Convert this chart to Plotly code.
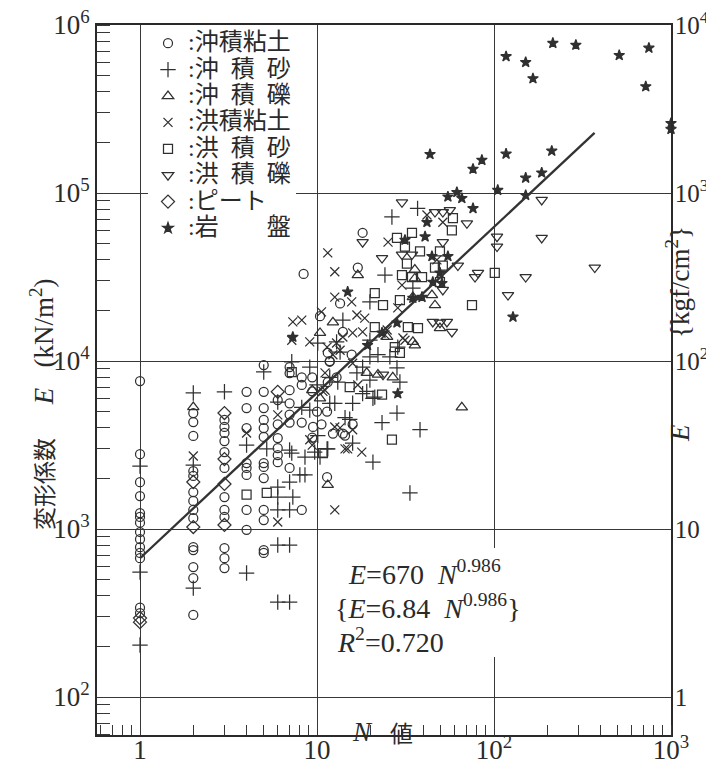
import plotly.graph_objects as go

# ---------------- data (N value, deformation modulus E [kN/m2]) ----------------
categories = ["沖積粘土", "沖\u2002積\u2002砂", "沖\u2002積\u2002礫", "洪積粘土",
              "洪\u2002積\u2002砂", "洪\u2002積\u2002礫", "ピート", "岩\u2003\u2003盤"]

# 沖積粘土 (alluvial clay)
clayA_N = [1]*14 + [2]*14 + [3]*12 + [4]*8 + [5]*13 + [6]*6 + [7]*7 + [8.2]*4 + \
          [9.4, 9.4, 9.5, 9.4, 10, 10.6, 11.4, 10.4, 11.8, 12.9, 12.3, 14, 11.4, 13.5,
           11.5, 11.8, 11.5, 15.7, 14, 15.9, 14.4, 17, 18.1, 8.4]
clayA_E = [7600, 2790, 1900, 1570, 1245, 1180, 1090, 960, 870, 780, 720, 670, 340, 316,
           4900, 4330, 3580, 2215, 2070, 1660, 1470, 1300, 1160, 781, 750, 594, 511, 308,
           4460, 4050, 3730, 3340, 2870, 2310, 1550, 1300, 1180, 771, 671, 586,
           6560, 5250, 3990, 2470, 2310, 2100, 1300, 990,
           9460, 6560, 5250, 4460, 3990, 3530, 2470, 2340, 2010, 1300, 1130, 750, 720,
           5860, 4200, 3480, 3030, 2750, 2500,
           9200, 8460, 6700, 5600, 4800, 4300, 2310,
           8000, 7200, 4300, 1300,
           8000, 6600, 4050, 3500, 5000, 4200, 5000, 18500, 9900, 8000, 3700, 3700, 2040, 22000,
           11200, 10000, 7500, 10900, 14900, 4200, 3600, 36000, 58000, 33000]

# 沖積砂 (alluvial sand)
sandA_N = [1, 1, 1, 2, 2, 2, 3, 4, 4, 5, 6, 6, 6, 6, 6, 7, 7, 7, 7, 7, 7.3, 8,
           10.1, 12.9, 7.2, 9.1, 10, 11.8, 6, 8.2, 9.1, 11.8, 14.4, 10.1, 7.2, 8.55, 10.4,
           11.4, 8.55, 5.2, 9.7, 37,
           24.2, 34.8, 19.9, 14, 19.9, 13.5, 19.9, 22.1, 25.8, 28.6, 18.1, 16.8, 28.3, 13.1,
           19.9, 29.4, 18.1, 21.2, 19.1, 20.7, 12.6, 15.9, 28.3, 23.3, 38.2, 15.3, 20.7, 15.9,
           11.5, 33.5, 26.5]
sandA_E = [2370, 554, 204, 6456, 2400, 445, 6560, 3162, 547, 8610, 1778, 1549, 1298, 803, 367,
           2951, 1905, 1298, 803, 367, 1550, 2100,
           12800, 13000, 9900, 9200, 7200, 8000, 5700, 5300, 5100, 5600, 4600, 3600, 2830, 2680,
           2680, 3000, 2100, 3000, 2870, 81000,
           32500, 27200, 22500, 17500, 13300, 11300, 10600, 10900, 10600, 12100, 9200, 8500, 9100,
           7500, 7700, 7500, 6400, 6100, 6600, 6000, 5600, 5600, 4900, 4300, 3900, 4500, 2500,
           3250, 3000, 1640, 72000]

# 沖積礫 (alluvial gravel)
gravA_N = [2, 10.4, 12.3, 10.4, 11.5, 19.1, 26.8, 22.1, 24.9, 35.7, 35.7, 44.6, 46.4, 49.5,
           34.8, 35.7, 34.8, 65.8, 17, 9.4]
gravA_E = [5320, 14700, 17000, 6000, 1830, 8500, 8000, 8300, 13900, 12400, 35000, 24700,
           21500, 15700, 13000, 31000, 24000, 5300, 32500, 6700]

# 洪積粘土 (diluvial clay)
clayD_N = [2, 4, 6, 6, 12.6, 7.3, 8.2, 7.2, 10.6, 9.1, 11.4, 12.3, 13.5, 14, 11.1, 12.6, 9.1,
           9.4, 14.4, 11.5, 12.6, 12.6, 15.7, 16.8, 18.6, 24.9, 15.9, 18.1, 30.6, 12.9, 15.9,
           11.1, 17, 10.8, 28.6, 30.2, 25.2, 13.5, 15.9, 14.9, 17.9, 41.8, 51.4, 47.6, 24.2,
           31.4]
clayD_E = [2720, 3727, 4776, 1101, 1300, 17100, 17500, 13300, 19600, 13000, 12100, 10900,
           11600, 13900, 6700, 4050, 3400, 3160, 3000, 44000, 34000, 24000, 22500, 18800,
           18000, 15300, 14700, 14900, 13700, 12800, 9700, 8500, 7200, 6600, 20700, 28300,
           51000, 4000, 3900, 3000, 2870, 74000, 67000, 40000, 14300, 13300]

# 洪積砂 (diluvial sand)
sandD_N = [4, 5.2, 7.2, 15.3, 10.8, 23.3, 26.5, 28.3, 34.4, 31.4, 38.2, 32.2, 30.2, 34.4,
           39.2, 21.2, 23.6, 29.4, 21.2, 32.6, 37.2, 27.5, 29.4, 58.6, 57.8, 49.5, 46.4, 51.4,
           101, 49.5, 75.1]
sandD_E = [1600, 1640, 8600, 7000, 2830, 6300, 3400, 54000, 58000, 48000, 45000, 38000, 32500,
           31600, 31600, 25400, 21500, 23000, 15900, 15900, 15700, 12100, 11200, 71000, 60000,
           45000, 36000, 37000, 33500, 29500, 21500]

# 洪積礫 (diluvial gravel)
gravD_N = [30.2, 46.4, 51.4, 56.3, 70.3, 18.1, 51.4, 23.3, 30.2, 34.4, 62.5, 78.1, 81.2, 104,
           104, 51.4, 120, 151, 186, 186, 371, 45.1, 49.5, 54.2, 57.8, 23.6]
gravD_E = [88000, 77000, 77000, 79000, 66000, 51000, 51000, 41000, 43000, 43000, 37000, 31600,
           33500, 55000, 48000, 26500, 24700, 31600, 91000, 54000, 36000, 17100, 16900, 17100,
           14900, 8300]

# ピート (peat)
peat_N = [1, 1, 2, 2, 3, 3, 3, 3, 6]
peat_E = [295, 279, 1905, 1028, 4900, 2610, 1854, 1057, 6560]

# 岩盤 (rock)
rock_N = [43.5, 85.4, 76.1, 117, 151, 151, 61.7, 54.9, 65.8, 105, 76.1, 41.8, 31.4, 40.8,
          44.6, 54.9, 45.1, 50.8, 14.9, 34.8, 39.2, 128, 28.3, 19.3, 23.3, 28.6, 49.5, 7.3,
          212, 186, 215, 117, 151, 166, 290, 510, 750, 720, 1000, 1000]
rock_E = [170000, 157000, 139000, 171000, 123000, 97000, 101000, 95000, 93000, 104000, 81000,
          67000, 52500, 55000, 42000, 42000, 29500, 29000, 25800, 23700, 24000, 18300, 16900,
          12400, 14700, 6400, 33500, 13900, 178000, 132000, 780000, 650000, 600000, 480000,
          760000, 660000, 730000, 430000, 260000, 240000]

# regression  E = 670 N^0.986   {E = 6.84 N^0.986 in kgf/cm2}
fit_coef = 670
fit_coef_kgf = 6.84
fit_exp = 0.986
fit_N = [1, 370]

x_tickvals = [1, 10, 100, 1000]
x_ticktext = ["1", "10", "10<sup>2</sup>", "10<sup>3</sup>"]
y_tickvals = [1e2, 1e3, 1e4, 1e5, 1e6]
y_ticktext = ["10<sup>2</sup>", "10<sup>3</sup>", "10<sup>4</sup>", "10<sup>5</sup>", "10<sup>6</sup>"]
y2_tickvals = [1, 10, 100, 1000, 10000]
y2_ticktext = ["1", "10", "10<sup>2</sup>", "10<sup>3</sup>", "10<sup>4</sup>"]

# ---------------- figure ----------------
SERIF = "Liberation Serif, 'Noto Sans CJK JP', serif"
INK = "#303030"
TXT = "#2a2a2a"
GRID = "#383838"

series = [
    (clayA_N, clayA_E, "circle-open", 9),
    (sandA_N, sandA_E, "cross-thin-open", 11),
    (gravA_N, gravA_E, "triangle-up-open", 10),
    (clayD_N, clayD_E, "x-thin-open", 9),
    (sandD_N, sandD_E, "square-open", 9),
    (gravD_N, gravD_E, "triangle-down-open", 10),
    (peat_N, peat_E, "diamond-open", 10),
    (rock_N, rock_E, "star", 8),
]

fig = go.Figure()
for name, (xs, ys, sym, sz) in zip(categories, series):
    fig.add_trace(go.Scatter(
        x=xs, y=ys, mode="markers", cliponaxis=False,
        name='<span style="font-size:24px">:' + name + '</span>',
        marker=dict(symbol=sym, size=sz, color=INK, line=dict(width=1.25, color=INK)),
    ))

fig.add_trace(go.Scatter(
    x=fit_N, y=[fit_coef * n ** fit_exp for n in fit_N], mode="lines",
    line=dict(color="#333333", width=2.3), showlegend=False, hoverinfo="skip",
))
# same regression in kgf/cm2 on the right-hand axis (coincides with the line above)
fig.add_trace(go.Scatter(
    x=fit_N, y=[fit_coef_kgf * n ** fit_exp for n in fit_N], mode="lines", yaxis="y2",
    line=dict(color="rgba(0,0,0,0)", width=0), showlegend=False, hoverinfo="skip",
))

# The page body has an 8 px margin, so the figure is drawn 8 px in from the window edge.
OFF = 8
W, H = 714 - OFF, 767 - OFF
# plot area in window pixels: x 97..671, y 25..735
L, R, T, B = 97 - OFF, 714 - 671, 25 - OFF, 767 - 735
PW, PH = W - L - R, H - T - B


def px(x):  # window pixel -> paper
    return (x - OFF - L) / PW


def py(y):
    return (H - B - (y - OFF)) / PH


TICKF = dict(size=27, family=SERIF, color=TXT)
TICKF2 = dict(size=25, family=SERIF, color=TXT)

fig.update_layout(
    width=W, height=H,
    margin=dict(l=L, r=R, t=T, b=B, autoexpand=False),
    paper_bgcolor="white", plot_bgcolor="white",
    font=dict(family=SERIF, color=TXT, size=18),
    showlegend=True,
    legend=dict(x=px(148), y=py(25), xanchor="left", yanchor="top",
                bgcolor="white", borderwidth=0, itemwidth=30, tracegroupgap=0,
                font=dict(size=18, family=SERIF, color=TXT)),
    xaxis=dict(type="log", range=[-0.243, 3], tickvals=x_tickvals, ticktext=x_ticktext,
               automargin=False, ticklabeloverflow="allow", ticklabelstandoff=-10,
               showgrid=True, gridcolor=GRID, gridwidth=1.4, zeroline=False,
               showline=True, linecolor=TXT, linewidth=1.6, mirror=True,
               ticks="", tickfont=TICKF,
               minor=dict(ticks="inside", ticklen=10, tickwidth=1.1, tickcolor=GRID,
                          dtick="D1", showgrid=False)),
    yaxis=dict(type="log", range=[1.774, 6], tickvals=y_tickvals, ticktext=y_ticktext,
               automargin=False, ticklabeloverflow="allow",
               showgrid=True, gridcolor=GRID, gridwidth=1.4, zeroline=False,
               showline=True, linecolor=TXT, linewidth=1.6, mirror=True,
               ticks="", tickfont=TICKF,
               minor=dict(ticks="inside", ticklen=13, tickwidth=1.1, tickcolor=GRID,
                          dtick="D1", showgrid=False)),
    yaxis2=dict(type="log", range=[-0.226, 4.0005], overlaying="y", side="right", anchor="x",
                automargin=False, ticklabeloverflow="allow", ticklabelstandoff=-3,
                tickvals=y2_tickvals, ticktext=y2_ticktext, showgrid=False, zeroline=False,
                showline=True, linecolor=TXT, linewidth=1.6, ticks="",
                tickfont=TICKF2),
)

# white box behind the equation
fig.add_shape(type="rect", xref="paper", yref="paper",
              x0=px(330), x1=px(562), y0=py(657), y1=py(548),
              fillcolor="white", line=dict(width=0), layer="above")

eq_font = dict(size=28, family=SERIF, color=TXT)
fig.add_annotation(xref="paper", yref="paper", x=px(346), y=py(572), xanchor="left",
                   yanchor="middle", showarrow=False, font=eq_font,
                   text="<i>E</i>=670  <i>N</i><sup>0.986</sup>")
fig.add_annotation(xref="paper", yref="paper", x=px(333), y=py(606), xanchor="left",
                   yanchor="middle", showarrow=False, font=eq_font,
                   text="{<i>E</i>=6.84  <i>N</i><sup>0.986</sup>}")
fig.add_annotation(xref="paper", yref="paper", x=px(335), y=py(640), xanchor="left",
                   yanchor="middle", showarrow=False, font=eq_font,
                   text="<i>R</i><sup>2</sup>=0.720")

# axis titles
cjk_font = dict(size=23, family=SERIF, color=TXT)
lat_font = dict(size=27, family=SERIF, color=TXT)
fig.add_annotation(xref="paper", yref="paper", x=px(23), y=py(405), textangle=-90,
                   showarrow=False, font=lat_font,
                   text='<span style="font-size:23px">変形係数</span>\u2003 <i>E</i>\u2002 '
                        '(kN/m<sup>2</sup>)')
fig.add_annotation(xref="paper", yref="paper", x=px(697), y=py(433), textangle=-90,
                   showarrow=False, font=lat_font, text="<i>E</i>")
fig.add_annotation(xref="paper", yref="paper", x=px(697), y=py(282), textangle=-90,
                   showarrow=False, font=lat_font, text="{kgf/cm<sup>2</sup>}")
fig.add_annotation(xref="paper", yref="paper", x=px(362), y=py(749),
                   showarrow=False, font=lat_font, text="<i>N</i>")
fig.add_annotation(xref="paper", yref="paper", x=px(401), y=py(749),
                   showarrow=False, font=cjk_font, text="値")

fig.write_html("out.html")
